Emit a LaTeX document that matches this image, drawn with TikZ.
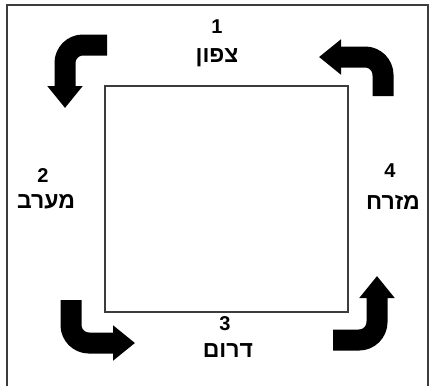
\documentclass[tikz,border=0pt]{standalone}
\usepackage{fontspec}
\setmainfont{Liberation Sans}
\newfontfamily\hebfont[Script=Hebrew]{Liberation Sans}
\TeXXeTstate=1
\usetikzlibrary{arrows.meta}
\definecolor{frame}{RGB}{60,60,60}

\begin{document}
\begin{tikzpicture}[x=1pt, y=-1pt,
  num/.style={font=\fontsize{20}{20}\selectfont\bfseries, inner sep=0pt},
  word/.style={font=\fontsize{23}{23}\selectfont\hebfont\bfseries, inner sep=0pt},
  turn/.style={line width=21pt, rounded corners=18pt,
    -{Triangle[length=22pt, width=34pt]}},
]
\useasboundingbox (0,0) rectangle (429,386);

% Outer frame and the square
\draw[frame, line width=1.3pt] (7,386) -- (7,5) -- (428,5) -- (428,386);
\node[draw=frame, line width=1.2pt, minimum width=243pt, minimum height=226pt,
      inner sep=0pt] (sq) at (226.5,199) {};

% Labels
\node[num] (n1) at (217,27) {1};
\node[word] (north) at (217,58) {\beginR צפון\endR};
\node[num] (n2) at (43,176) {2};
\node[word] (west) at (46,202) {\beginR מערב\endR};
\node[num] (n3) at (225,324) {3};
\node[word] (south) at (228,351) {\beginR דרום\endR};
\node[num] (n4) at (390,171) {4};
\node[word] (east) at (393,202) {\beginR מזרח\endR};

% Turning arrows
\coordinate (nwA) at (107,45);  \coordinate (nwB) at (65,108);
\coordinate (swA) at (71,300);  \coordinate (swB) at (135,343);
\coordinate (seA) at (333,340); \coordinate (seB) at (377,276);
\coordinate (neA) at (383,96);  \coordinate (neB) at (319,57);
\draw[turn] (nwA) -| (nwB);
\draw[turn] (swA) |- (swB);
\draw[turn] (seA) -| (seB);
\draw[turn] (neA) |- (neB);
\end{tikzpicture}
\end{document}
